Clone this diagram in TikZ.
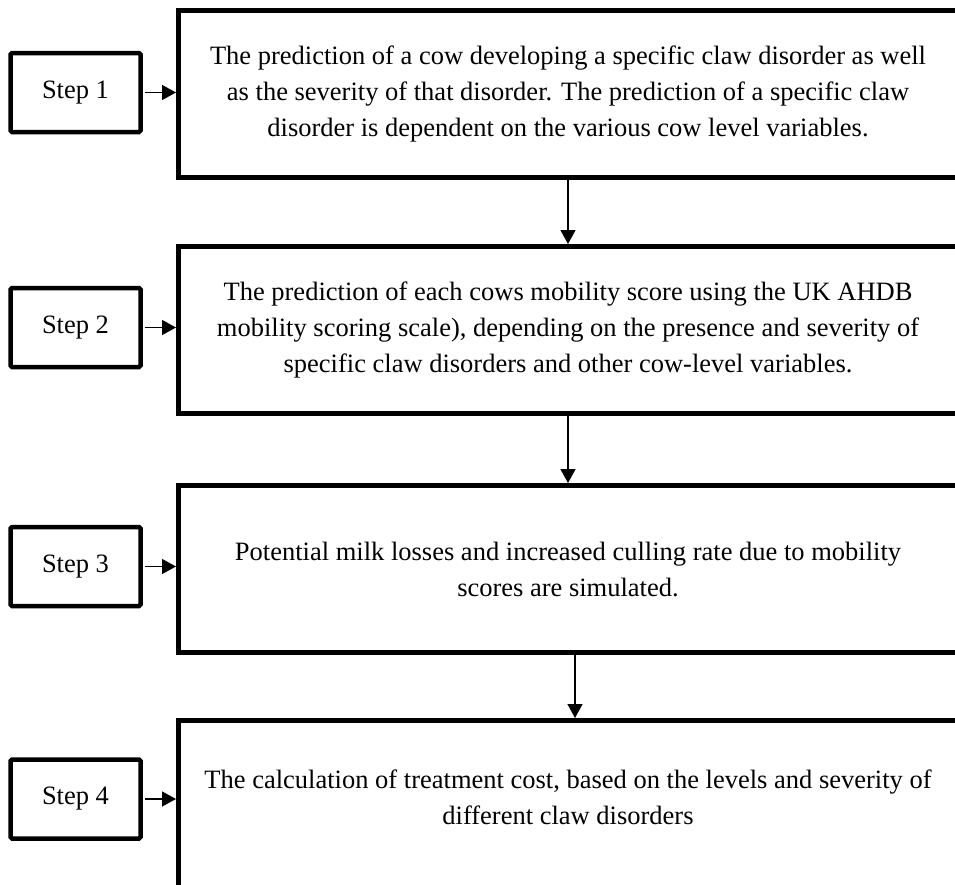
\documentclass[tikz,border=0pt]{standalone}
\usepackage{fontspec}
\setmainfont{Liberation Serif}
\usetikzlibrary{arrows.meta}

\begin{document}
\begin{tikzpicture}[x=1pt,y=-1pt,
  stepbox/.style={draw,line width=4.5pt,rounded corners=1.5pt,minimum width=130pt,minimum height=79pt,font=\fontsize{26.5}{36}\selectfont},
  textbox/.style={draw,line width=5pt,minimum width=779pt,minimum height=167pt,align=center,font=\fontsize{26.5}{36}\selectfont},
  link/.style={-{Triangle[length=14pt,width=15pt]},line width=1.3pt}]
  \useasboundingbox (0,0) rectangle (955,884);
  \node[textbox] (b1) at (568,94) {The prediction of a cow developing a specific claw disorder as well\\as the severity of that disorder. The prediction of a specific claw\\disorder is dependent on the various cow level variables.};
  \node[textbox] (b2) at (568,330) {The prediction of each cows mobility score using the UK AHDB\\mobility scoring scale), depending on the presence and severity of\\specific claw disorders and other cow-level variables.};
  \node[textbox] (b3) at (568,569) {Potential milk losses and increased culling rate due to mobility\\scores are simulated.};
  \node[textbox,minimum height=171pt,text depth=17pt] (b4) at (568,806) {The calculation of treatment cost, based on the levels and severity of\\different claw disorders};
  \node[stepbox] (s1) at (75.5,92.5) {Step 1};
  \node[stepbox] (s2) at (75.5,327.5) {Step 2};
  \node[stepbox] (s3) at (75.5,566.5) {Step 3};
  \node[stepbox] (s4) at (75.5,799) {Step 4};
  % steps to boxes
  \draw[link] ([xshift=2pt]s1.east) -- (s1.east -| b1.west);
  \draw[link] ([xshift=2pt]s2.east) -- (s2.east -| b2.west);
  \draw[link] ([xshift=2pt]s3.east) -- (s3.east -| b3.west);
  \draw[link] ([xshift=2pt]s4.east) -- (s4.east -| b4.west);
  % boxes downwards
  \draw[link] (b1.south) -- (b2.north);
  \draw[link] (b2.south) -- (b3.north);
  \draw[link] ([xshift=7pt]b3.south) -- ([xshift=7pt]b4.north);
\end{tikzpicture}
\end{document}
